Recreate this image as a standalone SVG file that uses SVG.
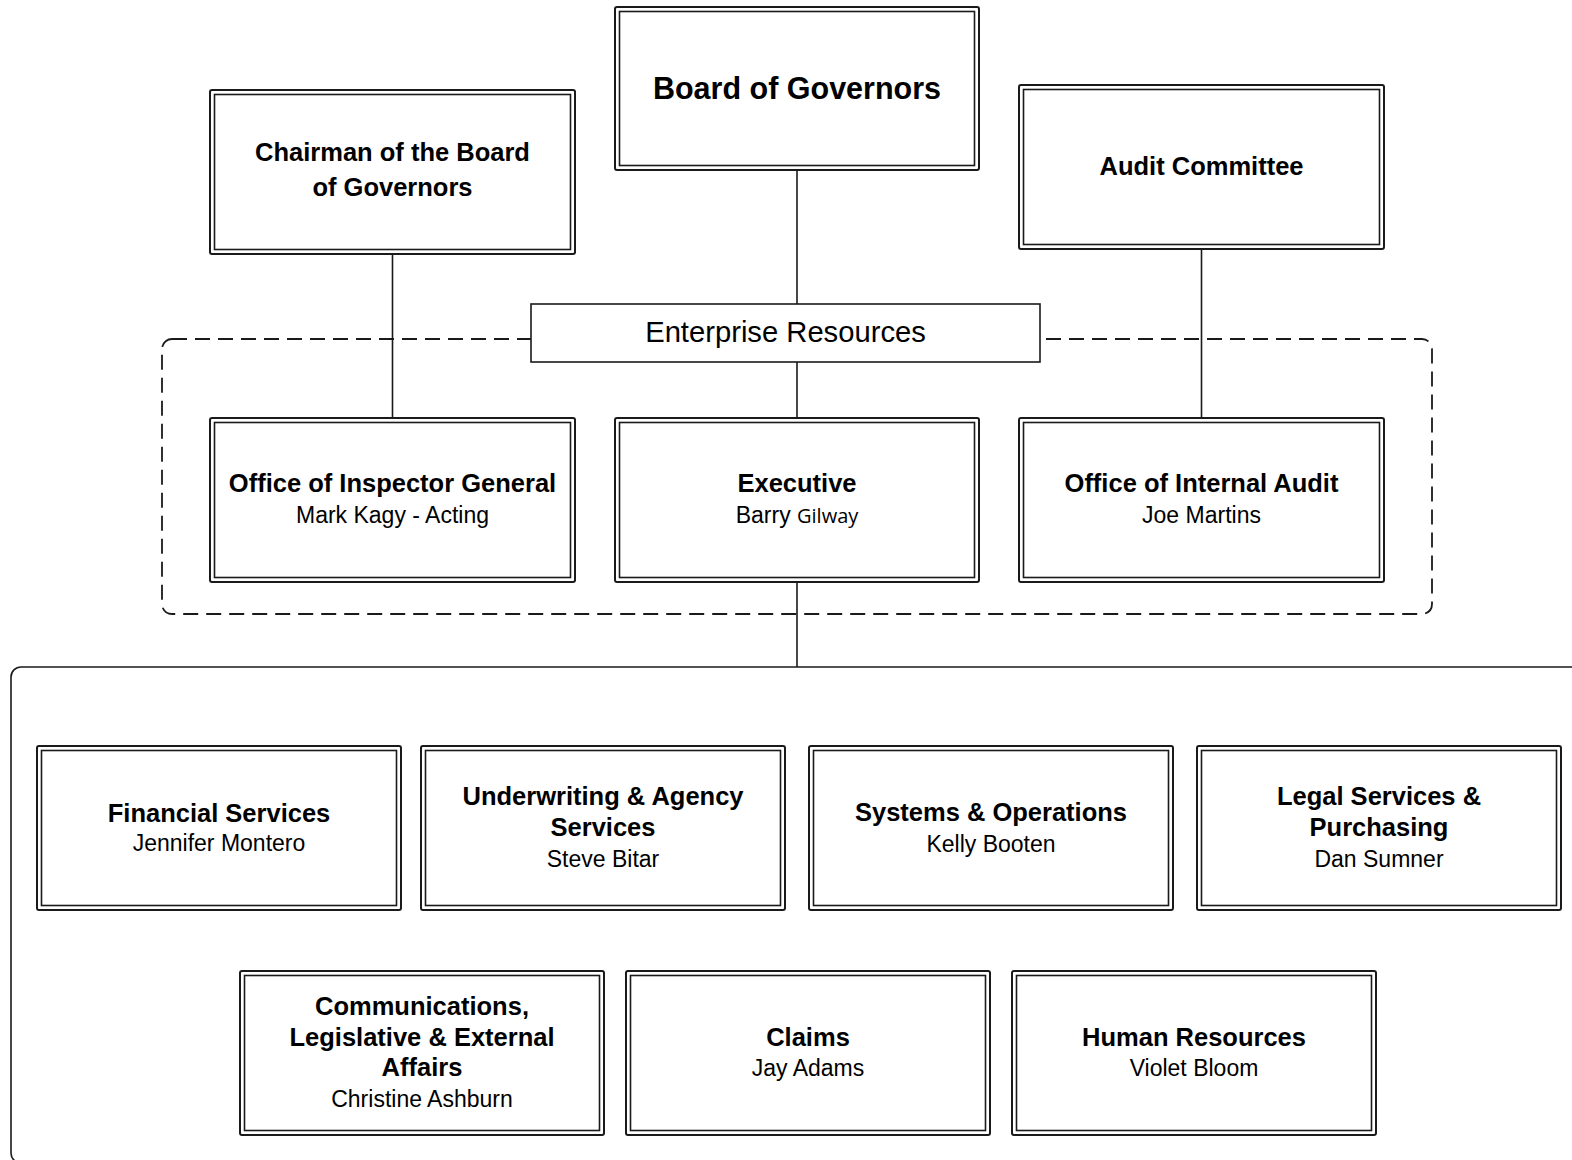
<svg xmlns="http://www.w3.org/2000/svg" width="1572" height="1160" viewBox="0 0 1572 1160">
<style>
.o{fill:#fff;stroke:#1a1a1a;stroke-width:2}
.i{fill:none;stroke:#1a1a1a;stroke-width:1.6}
.c{stroke:#1a1a1a;stroke-width:1.6;fill:none}
.b{font-family:"Liberation Sans",Arial,sans-serif;font-weight:bold;font-size:25.5px;fill:#000;text-anchor:middle}
.r{font-family:"Liberation Sans",Arial,sans-serif;font-size:23px;fill:#000;text-anchor:middle}
</style>
<rect width="1572" height="1160" fill="#fff"/>
<g id="containers">
<rect x="11" y="667" width="1600" height="496" rx="10" fill="none" stroke="#1a1a1a" stroke-width="1.6"/>
<rect x="162" y="339" width="1270" height="275" rx="10" fill="none" stroke="#1a1a1a" stroke-width="1.8" stroke-dasharray="15 8"/>
</g>
<g id="connectors">
<line class="c" x1="797" y1="170" x2="797" y2="304"/>
<line class="c" x1="797" y1="362" x2="797" y2="418"/>
<line class="c" x1="392.5" y1="254" x2="392.5" y2="418"/>
<line class="c" x1="1201.5" y1="249" x2="1201.5" y2="418"/>
<line class="c" x1="797" y1="582" x2="797" y2="667"/>
</g>
<g id="board">
<rect class="o" x="615" y="7" width="364" height="163" rx="2"/><rect class="i" x="619.5" y="11.5" width="355" height="154"/>
<text class="b" x="797" y="99" style="font-size:30.5px">Board of Governors</text>
</g>
<g id="chairman">
<rect class="o" x="210" y="90" width="365" height="164" rx="2"/><rect class="i" x="214.5" y="94.5" width="356" height="155"/>
<text class="b" x="392.5" y="161">Chairman of the Board</text>
<text class="b" x="392.5" y="196">of Governors</text>
</g>
<g id="audit">
<rect class="o" x="1019" y="85" width="365" height="164" rx="2"/><rect class="i" x="1023.5" y="89.5" width="356" height="155"/>
<text class="b" x="1201.5" y="175">Audit Committee</text>
</g>
<g id="enterprise">
<rect x="531" y="304" width="509" height="58" fill="#fff" stroke="#1a1a1a" stroke-width="1.6"/>
<text x="785.5" y="342" style="font-family:'Liberation Sans',Arial,sans-serif;font-size:29.2px;text-anchor:middle">Enterprise Resources</text>
</g>
<g id="inspector">
<rect class="o" x="210" y="418" width="365" height="164" rx="2"/><rect class="i" x="214.5" y="422.5" width="356" height="155"/>
<text class="b" x="392.5" y="492">Office of Inspector General</text>
<text class="r" x="392.5" y="523">Mark Kagy - Acting</text>
</g>
<g id="executive">
<rect class="o" x="615" y="418" width="364" height="164" rx="2"/><rect class="i" x="619.5" y="422.5" width="355" height="155"/>
<text class="b" x="797" y="492">Executive</text>
<text class="r" x="797" y="523">Barry <tspan style="font-family:'Open Sans',sans-serif;font-size:20px">Gilway</tspan></text>
</g>
<g id="internal-audit">
<rect class="o" x="1019" y="418" width="365" height="164" rx="2"/><rect class="i" x="1023.5" y="422.5" width="356" height="155"/>
<text class="b" x="1201.5" y="492">Office of Internal Audit</text>
<text class="r" x="1201.5" y="523">Joe Martins</text>
</g>
<g id="financial">
<rect class="o" x="37" y="746" width="364" height="164" rx="2"/><rect class="i" x="41.5" y="750.5" width="355" height="155"/>
<text class="b" x="219" y="822">Financial Services</text>
<text class="r" x="219" y="851">Jennifer Montero</text>
</g>
<g id="underwriting">
<rect class="o" x="421" y="746" width="364" height="164" rx="2"/><rect class="i" x="425.5" y="750.5" width="355" height="155"/>
<text class="b" x="603" y="805">Underwriting &amp; Agency</text>
<text class="b" x="603" y="836">Services</text>
<text class="r" x="603" y="867">Steve Bitar</text>
</g>
<g id="systems">
<rect class="o" x="809" y="746" width="364" height="164" rx="2"/><rect class="i" x="813.5" y="750.5" width="355" height="155"/>
<text class="b" x="991" y="821">Systems &amp; Operations</text>
<text class="r" x="991" y="852">Kelly Booten</text>
</g>
<g id="legal">
<rect class="o" x="1197" y="746" width="364" height="164" rx="2"/><rect class="i" x="1201.5" y="750.5" width="355" height="155"/>
<text class="b" x="1379" y="805">Legal Services &amp;</text>
<text class="b" x="1379" y="836">Purchasing</text>
<text class="r" x="1379" y="867">Dan Sumner</text>
</g>
<g id="communications">
<rect class="o" x="240" y="971" width="364" height="164" rx="2"/><rect class="i" x="244.5" y="975.5" width="355" height="155"/>
<text class="b" x="422" y="1015">Communications,</text>
<text class="b" x="422" y="1046">Legislative &amp; External</text>
<text class="b" x="422" y="1076">Affairs</text>
<text class="r" x="422" y="1107">Christine Ashburn</text>
</g>
<g id="claims">
<rect class="o" x="626" y="971" width="364" height="164" rx="2"/><rect class="i" x="630.5" y="975.5" width="355" height="155"/>
<text class="b" x="808" y="1046">Claims</text>
<text class="r" x="808" y="1076">Jay Adams</text>
</g>
<g id="hr">
<rect class="o" x="1012" y="971" width="364" height="164" rx="2"/><rect class="i" x="1016.5" y="975.5" width="355" height="155"/>
<text class="b" x="1194" y="1046">Human Resources</text>
<text class="r" x="1194" y="1076">Violet Bloom</text>
</g>
</svg>
